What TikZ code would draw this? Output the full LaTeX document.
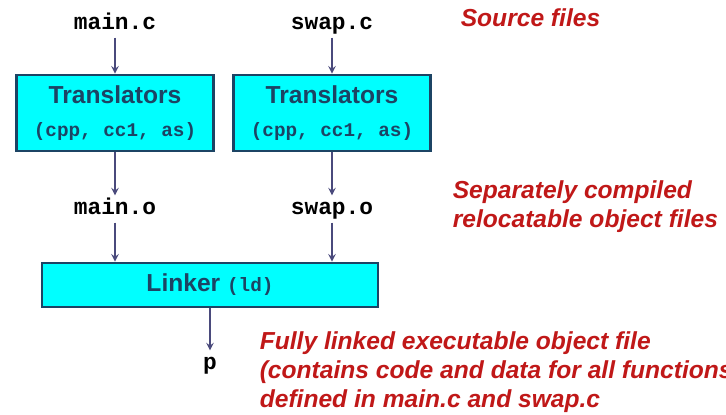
\documentclass[tikz,border=0pt]{standalone}
\usepackage{fontspec}
\setmainfont{Liberation Sans}
\setmonofont{Liberation Mono}
\usetikzlibrary{positioning}

\definecolor{toolfill}{HTML}{00FFFF}
\definecolor{tooledge}{HTML}{1C4464}
\definecolor{flow}{HTML}{4A4A7C}
\definecolor{notered}{HTML}{C01818}

\def\linkerwidth{6.72cm}

\begin{document}
\begin{tikzpicture}[x=0.02cm,y=-0.02cm,->,>=stealth,draw=flow,line width=0.9pt]
    \tikzstyle{file}=[font=\ttfamily\bfseries\fontsize{13}{13}\selectfont, inner sep=2pt,
        text height=1.6ex, text depth=0.4ex]
    \tikzstyle{tool}=[draw=tooledge, fill=toolfill, line width=1.6pt, text=tooledge,
        font=\bfseries\fontsize{14}{19}\selectfont, align=center]
    \tikzstyle{translator}=[tool, minimum width=3.94cm, minimum height=1.52cm]
    \tikzstyle{note}=[text=notered, font=\bfseries\itshape\fontsize{14}{16.5}\selectfont,
        align=left, anchor=west, inner sep=0pt]

    \useasboundingbox (0,0) rectangle (726,414);

    % Source files, translators and object files, one column each
    \foreach \name / \x in {main/115, swap/332}{
        \node[file] (\name-c) at (\x,24) {\name.c};
        \node[translator] (T-\name) at (\x,113)
            {Translators\\{\ttfamily\fontsize{11}{19}\selectfont(cpp, cc1, as)}};
        \node[file] (\name-o) at (\x,209) {\name.o};
        \path (\name-c) edge (T-\name);
        \path (T-\name) edge (\name-o);
    }

    % Linker and the executable
    \node[tool, minimum width=\linkerwidth, minimum height=0.88cm] (L) at (210,285)
        {Linker {\ttfamily\fontsize{11}{11}\selectfont(ld)}};
    \node[file] (p) at (210,364) {p};

    % Connect the object files with the linker
    \foreach \name in {main,swap}
        \draw (\name-o) -- (\name-o |- L.north);
    \draw (L) -- (p);

    % Annotate the stages
    \node[note] (src) at (460,18) {Source files};
    \node[note] (obj) at (452,207) {Separately compiled\\relocatable object files};
    \node[note] (exe) at (259,372) {Fully linked executable object file\\(contains code and data for all functions\\defined in main.c and swap.c};
\end{tikzpicture}
\end{document}
